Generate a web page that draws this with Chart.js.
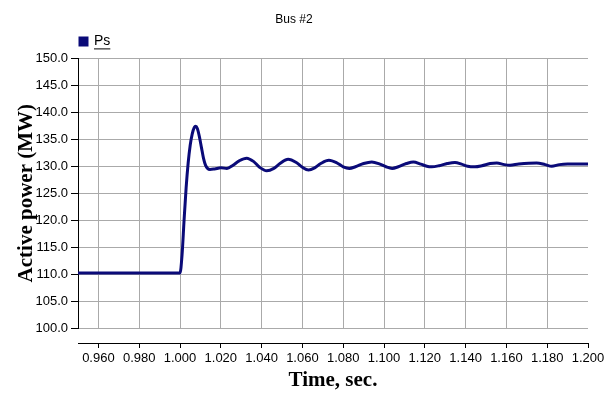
<!DOCTYPE html>
<html>
<head>
<meta charset="utf-8">
<title>Bus #2</title>
<script src="https://cdn.jsdelivr.net/npm/chart.js@4.4.1/dist/chart.umd.min.js"></script>
<style>
  html, body { margin: 0; padding: 0; background: #fff; }
  #wrap { width: 610px; height: 396px; }
</style>
</head>
<body>
<div id="wrap"><canvas id="busChart"></canvas></div>
<script>
// values
const timeSec = [
  0.950, 0.975, 1.000, 1.001, 1.002, 1.003, 1.004, 1.005, 1.006, 1.007,
  1.0077, 1.0085, 1.0095, 1.0105, 1.0115, 1.0125, 1.0135, 1.0147, 1.017, 1.020,
  1.023, 1.026, 1.029, 1.0327, 1.036, 1.039, 1.0425, 1.046, 1.049, 1.053,
  1.057, 1.060, 1.063, 1.066, 1.069, 1.073, 1.077, 1.080, 1.083, 1.086,
  1.090, 1.094, 1.098, 1.101, 1.104, 1.107, 1.111, 1.1144, 1.118, 1.121,
  1.1234, 1.127, 1.131, 1.1348, 1.138, 1.141, 1.1446, 1.148, 1.152, 1.1553,
  1.159, 1.1618, 1.166, 1.1748, 1.179, 1.1822, 1.186, 1.190, 1.200
];
const activePowerMW = [
  110.2, 110.2, 110.2, 113.5, 120.0, 126.0, 130.6, 133.9, 136.0, 137.2,
  137.4, 137.0, 135.5, 133.5, 131.5, 130.2, 129.6, 129.4, 129.5, 129.7,
  129.6, 130.2, 131.0, 131.5, 130.9, 129.8, 129.15, 129.6, 130.5, 131.3,
  130.7, 129.8, 129.3, 129.7, 130.5, 131.1, 130.6, 129.9, 129.6, 129.9,
  130.5, 130.8, 130.4, 129.9, 129.6, 129.9, 130.5, 130.8, 130.4, 130.0,
  129.9, 130.1, 130.5, 130.7, 130.4, 130.0, 129.9, 130.1, 130.5, 130.6,
  130.3, 130.2, 130.4, 130.6, 130.3, 130.0, 130.3, 130.4, 130.4
];
const gridTicks = [0.96, 0.98, 1.00, 1.02, 1.04, 1.06, 1.08, 1.10, 1.12, 1.14, 1.16, 1.18];
const axisTicks = [0.96, 0.98, 1.00, 1.02, 1.04, 1.06, 1.08, 1.10, 1.12, 1.14, 1.16, 1.18, 1.20];

const sans = "'Liberation Sans', Arial, sans-serif";
const serif = "'Liberation Serif', 'Times New Roman', serif";

// legend label is underlined in the original
const legendUnderline = {
  id: 'legendUnderline',
  afterDraw(chart) {
    const legend = chart.legend;
    if (!legend || !legend.legendHitBoxes || !legend.legendHitBoxes.length) return;
    const hb = legend.legendHitBoxes[0];
    const labels = legend.options.labels;
    const x0 = hb.left + labels.boxWidth + labels.font.size / 2;
    const x1 = hb.left + hb.width;
    const y = hb.top + hb.height;
    const ctx = chart.ctx;
    ctx.save();
    ctx.strokeStyle = '#000';
    ctx.lineWidth = 1;
    ctx.beginPath();
    ctx.moveTo(x0, y + 0.5);
    ctx.lineTo(x1, y + 0.5);
    ctx.stroke();
    ctx.restore();
  }
};

new Chart(document.getElementById('busChart'), {
  type: 'line',
  data: {
    datasets: [{
      label: 'Ps',
      data: timeSec.map((t, i) => ({ x: t, y: activePowerMW[i] })),
      borderColor: '#0a0a78',
      backgroundColor: '#0a0a78',
      borderWidth: 3,
      pointRadius: 0,
      cubicInterpolationMode: 'monotone',
      fill: false
    }]
  },
  options: {
    responsive: true,
    maintainAspectRatio: false,
    animation: false,
    layout: { padding: { left: 0, right: 22, top: 0, bottom: 0 } },
    plugins: {
      title: {
        display: true,
        text: 'Bus #2',
        color: '#000',
        font: { family: sans, size: 12, weight: 'normal' },
        padding: { top: 12, bottom: 6 }
      },
      legend: {
        display: true,
        align: 'start',
        fullSize: false,
        labels: {
          color: '#000',
          boxWidth: 7,
          boxHeight: 7,
          padding: 2,
          font: { family: sans, size: 14 }
        }
      },
      tooltip: { enabled: false }
    },
    scales: {
      x: {
        type: 'linear',
        min: 0.95,
        max: 1.2,
        weight: 0,
        afterBuildTicks: axis => { axis.ticks = gridTicks.map(v => ({ value: v })); },
        afterFit: axis => { axis.height = 15; },
        ticks: { display: false },
        grid: { color: '#aaaaaa', lineWidth: 1, drawTicks: false },
        border: { display: false }
      },
      x2: {
        type: 'linear',
        position: 'bottom',
        min: 0.95,
        max: 1.2,
        weight: 1,
        afterBuildTicks: axis => { axis.ticks = axisTicks.map(v => ({ value: v })); },
        afterFit: axis => { axis.height = 53; },
        ticks: {
          color: '#000',
          maxRotation: 0,
          autoSkip: false,
          padding: 3,
          font: { family: sans, size: 13 },
          callback: v => v.toFixed(3)
        },
        grid: { drawOnChartArea: false, tickLength: 5, tickColor: '#000' },
        border: { display: true, color: '#000', width: 1 },
        title: {
          display: true,
          text: 'Time, sec.',
          color: '#000',
          font: { family: serif, size: 21, weight: 'bold' },
          padding: { top: 0, bottom: 3 }
        }
      },
      y: {
        min: 100,
        max: 150,
        afterFit: axis => { axis.width = 78; },
        ticks: {
          stepSize: 5,
          color: '#000',
          padding: 3,
          font: { family: sans, size: 13 },
          callback: v => v.toFixed(1)
        },
        grid: { color: '#aaaaaa', lineWidth: 1, tickLength: 7, tickColor: '#000' },
        border: { display: true, color: '#000', width: 1 },
        title: {
          display: true,
          text: 'Active power (MW)',
          color: '#000',
          font: { family: serif, size: 21, weight: 'bold' },
          padding: { top: 14, bottom: 0 }
        }
      }
    }
  },
  plugins: [legendUnderline]
});
</script>
</body>
</html>
